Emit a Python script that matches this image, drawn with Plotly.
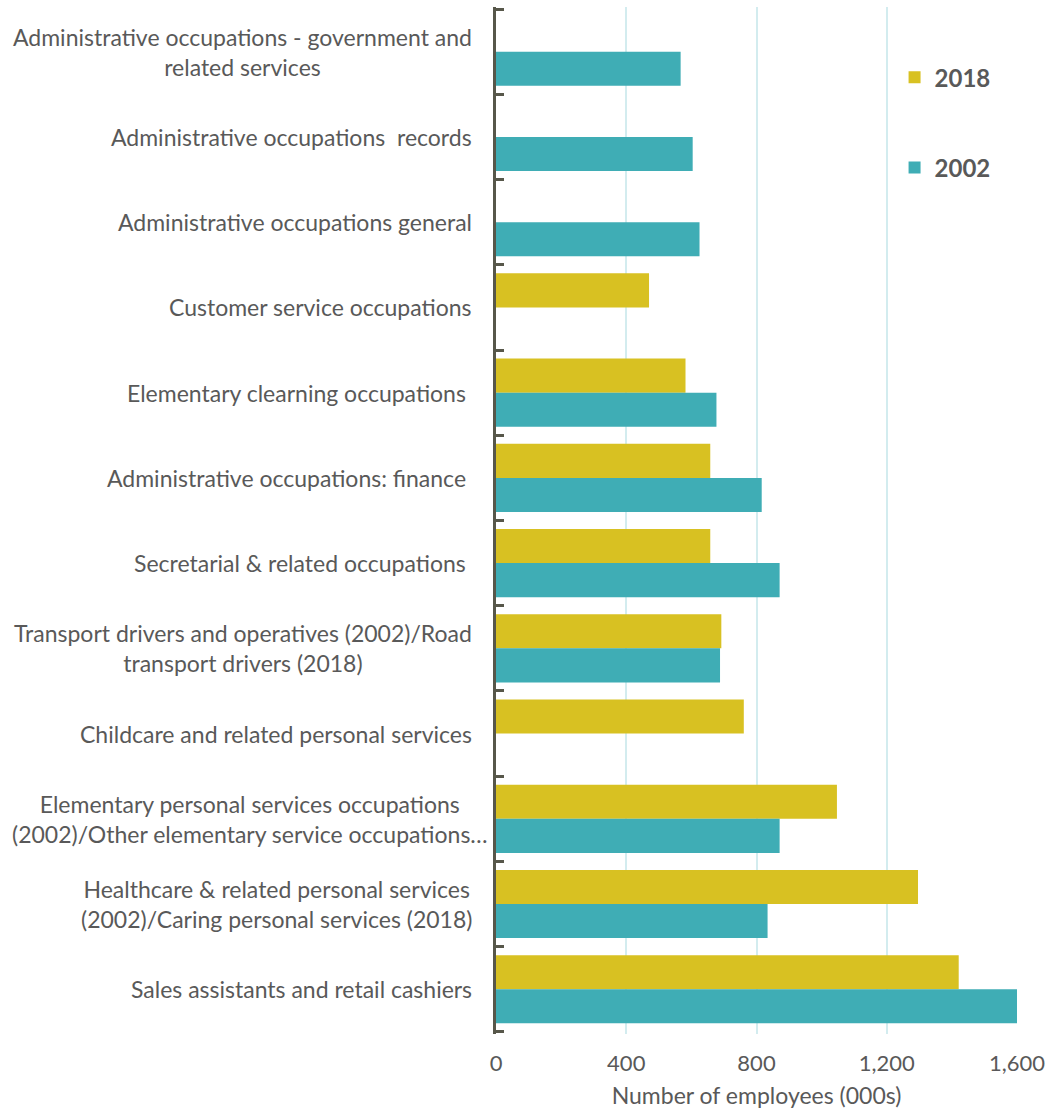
import plotly.graph_objects as go

# Category labels (top to bottom)
categories = [
    "Administrative occupations - government and<br>related services",
    "Administrative occupations\u00a0\u00a0records",
    "Administrative occupations general",
    "Customer service occupations",
    "Elementary clearning occupations\u00a0",
    "Administrative occupations: finance\u00a0",
    "Secretarial & related occupations\u00a0",
    "Transport drivers and operatives (2002)/Road<br>transport drivers (2018)",
    "Childcare and related personal services",
    "Elementary personal services occupations<br>(2002)/Other elementary service occupations…",
    "Healthcare & related personal services<br>(2002)/Caring personal services (2018)",
    "Sales assistants and retail cashiers",
]

values_2018 = [None, None, None, 470, 582, 658, 658, 692, 761, 1047, 1296, 1421]
values_2002 = [567, 604, 625, None, 677, 816, 871, 688, None, 871, 834, 1600]

x_ticks = [0, 400, 800, 1200, 1600]

YELLOW = "#D8C122"
TEAL = "#3FADB5"
TEXT = "#595959"
AXIS = "#57574A"
FONT = "Lato"

n = len(categories)
positions = list(range(n))                    # category slots on the y axis
boundaries = [i - 0.5 for i in range(n + 1)]  # category band edges (bracket ticks)
pad = 0.025                                   # keeps the end ticks inside the plot area

fig = go.Figure()
fig.add_trace(go.Bar(
    y=positions, x=values_2018, orientation="h", name="2018",
    marker=dict(color=YELLOW, line=dict(width=0)), legendgroup="a",
    hovertext=categories,
))
fig.add_trace(go.Bar(
    y=positions, x=values_2002, orientation="h", name="2002",
    marker=dict(color=TEAL, line=dict(width=0)), legendgroup="b",
    hovertext=categories,
))

for pos, c in zip(positions, categories):
    # truncated (overflowing) label sits a bit further right, as in the source
    shift = -6 if c.endswith("…") else -22
    fig.add_annotation(
        x=0, xref="paper", y=pos, yref="y", text=c, showarrow=False,
        xanchor="right", yanchor="middle", align="center", xshift=shift,
        font=dict(family=FONT, size=23, color=TEXT),
    )

fig.update_layout(
    width=1050, height=1110,
    margin=dict(l=496, r=33, t=7, b=76),
    paper_bgcolor="white", plot_bgcolor="white",
    barmode="group", bargap=0.2, bargroupgap=0,
    font=dict(family=FONT, color=TEXT),
    legend=dict(
        x=0.765, y=0.953, xanchor="left", yanchor="top",
        font=dict(family=FONT, size=24, color=TEXT, weight="bold"),
        tracegroupgap=56, bgcolor="rgba(0,0,0,0)",
    ),
    showlegend=True,
)

fig.update_xaxes(
    range=[0, 1600], tickvals=x_ticks, tickformat=",",
    showgrid=True, gridcolor="#D3ECEF", gridwidth=2,
    zeroline=False, showline=False, ticks="", automargin=False,
    ticklabelstandoff=14,
    tickfont=dict(family=FONT, size=22, color=TEXT),
    title=dict(text="Number of employees (000s)",
               font=dict(family=FONT, size=23, color=TEXT), standoff=12),
)

fig.update_yaxes(
    range=[n - 0.5 + pad, -0.5 - pad], tickmode="array", tickvals=boundaries,
    showticklabels=False, automargin=False,
    showline=True, linecolor=AXIS, linewidth=3,
    ticks="inside", ticklen=8, tickwidth=3, tickcolor=AXIS,
    showgrid=False, zeroline=False,
)

fig.write_html("out.html")
